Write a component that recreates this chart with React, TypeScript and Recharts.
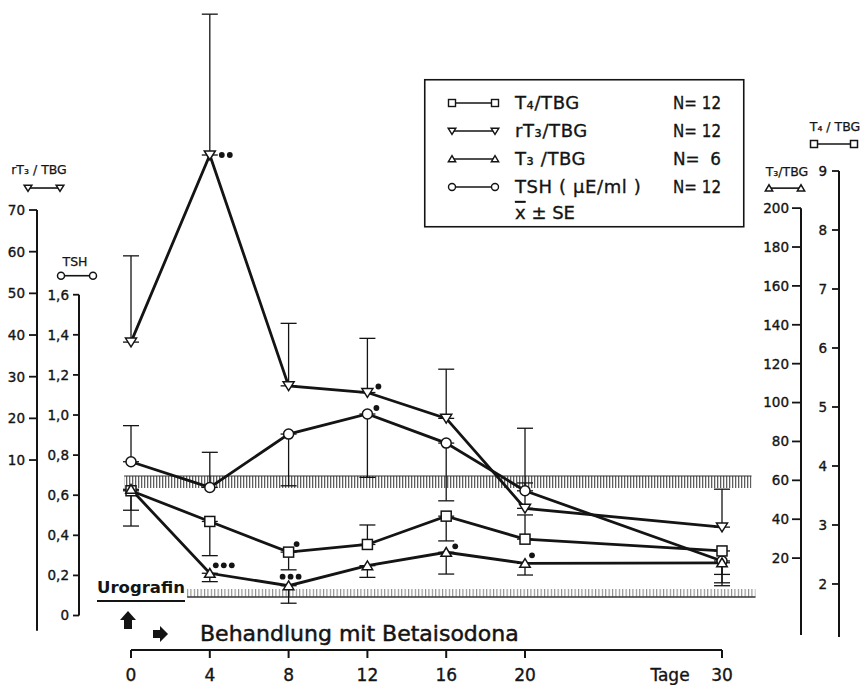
import React from 'react';
import {
  ComposedChart, Line, XAxis, YAxis, ErrorBar, ReferenceLine, ReferenceArea,
  ReferenceDot, LabelList, Legend,
} from 'recharts';

const FONT = "'DejaVu Sans', 'Liberation Sans', Arial, sans-serif";
const INK = '#141414';

// ---------------- data ----------------
const days = [0, 4, 8, 12, 16, 20, 30];

const t4Mean = [3.58, 3.06, 2.54, 2.67, 3.15, 2.76, 2.56];
const t4Err = [-0.33, -0.58, -0.30, 0.33, -0.42, 0.41, -0.54]; // + = bar up, - = bar down
const t4Sig = [0, 0, 1, 0, 0, 0, 0];

const rt3Mean = [38.3, 83.2, 27.8, 26.2, 20.0, -1.6, -6.1];
const rt3Err = [20.7, 33.8, 15.0, 13.0, 11.8, 6.1, 9.1];
const rt3Sig = [0, 2, 0, 1, 0, 0, 0];

const t3Mean = [55.4, 12.2, 5.8, 16.1, 23.0, 17.3, 17.6];
const t3Err = [-18.9, -4.3, -9.0, -6.0, -11.2, -6.0, -11.8];
const t3Sig = [0, 3, 3, 0, 1, 1, 0];

const tshMean = [0.767, 0.639, 0.905, 1.005, 0.86, 0.622, 0.272];
const tshErr = [0.18, 0.175, -0.258, -0.316, -0.288, 0.312, -0.067];
const tshSig = [0, 0, 0, 1, 0, 0, 0];

const xTicks = [0, 4, 8, 12, 16, 20, 30];
const rt3Ticks = [10, 20, 30, 40, 50, 60, 70];
const tshTicks = [0, 0.2, 0.4, 0.6, 0.8, 1.0, 1.2, 1.4, 1.6];
const t3Ticks = [20, 40, 60, 80, 100, 120, 140, 160, 180, 200];
const t4Ticks = [2, 3, 4, 5, 6, 7, 8, 9];

const legendNames = ['T₄/TBG', 'rT₃/TBG', 'T₃ /TBG', 'TSH ( μE/ml )'];
const legendN = ['N= 12', 'N= 12', 'N=  6', 'N= 12'];
const legendKinds = ['square', 'triDown', 'triUp', 'circle'];

// hatched reference bands (T4/TBG axis units, days)
const upperBand = { x1: -0.35, x2: 31.5, y1: 3.627, y2: 3.83 };
const lowerBand = { x1: 2.85, x2: 31.7, y1: 1.78, y2: 1.915 };

// ---------------- layout ----------------
// axis ids: Recharts stacks same-side axes in id order (first = next to the plot)
const TSH_ID = 'L1tsh', RT3_ID = 'L2rt3', T3_ID = 'R1t3', T4_ID = 'R2t4';
const CHART_W = 860;
const CHART_H = 685;
const MARGIN = { top: 10, right: 0, bottom: 0, left: 0 };
const RT3_W = 37, TSH_W = 42, T3_W = 38, T4_W = 21, XAXIS_H = 35;
const X_DOMAIN: [number, number] = [-2.64, 34.01];
const RT3_DOMAIN: [number, number] = [-35.59, 118.0];
const TSH_DOMAIN: [number, number] = [-0.172, 3.02];
const T3_DOMAIN: [number, number] = [-27.26, 301.9];
const T4_DOMAIN: [number, number] = [0.881, 11.729];
const PLOT_W = CHART_W - RT3_W - TSH_W - T3_W - T4_W;
const PX_PER_DAY = PLOT_W / (X_DOMAIN[1] - X_DOMAIN[0]);
const X_RT3_AXIS = X_DOMAIN[0] - TSH_W / PX_PER_DAY;
const X_TSH_AXIS = X_DOMAIN[0];
const X_T3_AXIS = X_DOMAIN[1];
const X_T4_AXIS = X_DOMAIN[1] + T3_W / PX_PER_DAY;

const errPair = (e: number) => (e >= 0 ? [0, e] : [-e, 0]);

const rows = days.map((d, i) => ({
  day: d,
  t4: t4Mean[i], t4E: errPair(t4Err[i]), t4S: t4Sig[i],
  rt3: rt3Mean[i], rt3E: errPair(rt3Err[i]), rt3S: rt3Sig[i],
  t3: t3Mean[i], t3E: errPair(t3Err[i]), t3S: t3Sig[i],
  tsh: tshMean[i], tshE: errPair(tshErr[i]), tshS: tshSig[i],
}));

const TXT = { fontFamily: FONT, fill: INK, stroke: INK, strokeWidth: 0.35 } as const;

// ---------------- shapes ----------------
function Marker({ kind, cx, cy, size, sw = 1.5 }: any) {
  if (cx == null || cy == null) return null;
  const h = size / 2;
  if (kind === 'square')
    return <rect x={cx - h} y={cy - h} width={size} height={size} fill="#fff" stroke={INK} strokeWidth={sw} />;
  if (kind === 'circle')
    return <circle cx={cx} cy={cy} r={h} fill="#fff" stroke={INK} strokeWidth={sw} />;
  if (kind === 'triDown')
    return (
      <polygon
        points={`${cx - h * 1.1},${cy - h * 0.8} ${cx + h * 1.1},${cy - h * 0.8} ${cx},${cy + h * 0.95}`}
        fill="#fff" stroke={INK} strokeWidth={sw} strokeLinejoin="miter"
      />
    );
  return (
    <polygon
      points={`${cx - h * 1.05},${cy + h * 0.8} ${cx + h * 1.05},${cy + h * 0.8} ${cx},${cy - h * 0.95}`}
      fill="#fff" stroke={INK} strokeWidth={sw} strokeLinejoin="miter"
    />
  );
}

const dotRenderer = (kind: string) => (p: any) => (
  <Marker key={`${kind}-${p.index}`} kind={kind} cx={p.cx} cy={p.cy} size={10} />
);

const sigOffsets: Record<string, Record<number, [number, number]>> = {
  rt3: { 1: [12, 0], 3: [11, -6] },
  tsh: { 3: [9, -6] },
  t4: { 2: [8, -8] },
  t3: { 1: [6, -8], 2: [-6, -9], 4: [9, -6], 5: [7, -8] },
};

const sigRenderer = (series: string) => (p: any) => {
  const n = Number(p.value) || 0;
  if (!n) return null;
  const x = p.x ?? p.viewBox?.x;
  const y = p.y ?? p.viewBox?.y;
  const off = sigOffsets[series][p.index] ?? [8, -7];
  return (
    <g key={`sig-${series}-${p.index}`}>
      {Array.from({ length: n }, (_, k) => (
        <circle key={k} cx={x + off[0] + k * 8} cy={y + off[1]} r={2.9} fill={INK} />
      ))}
    </g>
  );
};

const makeYTick = (len: number, gap: number, fmt: (v: number) => string) => (p: any) => (
  <g key={`yt-${p.index}-${p.x}`}>
    <line x1={p.x - len} x2={p.x} y1={p.y} y2={p.y} stroke={INK} strokeWidth={1.8} />
    <text x={p.x - len - gap} y={p.y} dy="0.36em" textAnchor="end" fontSize={13.5} {...TXT}>
      {fmt(p.payload.value)}
    </text>
  </g>
);

const XTick = (p: any) => (
  <g key={`xt-${p.index}`}>
    <line x1={p.x} x2={p.x} y1={p.y} y2={p.y + 8} stroke={INK} strokeWidth={2} />
    <text x={p.x} y={p.y + 31} textAnchor="middle" fontSize={17} {...TXT}>
      {p.payload.value}
    </text>
  </g>
);

const axisTitle = (label: string, kind: string, tdx: number, tdy: number, mdx: number, mdy: number, half: number) =>
  (p: any) => (
    <g>
      <text x={p.cx + tdx} y={p.cy + tdy} textAnchor="middle" fontSize={12.5} {...TXT} strokeWidth={0.25}>{label}</text>
      <line x1={p.cx + mdx - half} x2={p.cx + mdx + half} y1={p.cy + mdy} y2={p.cy + mdy} stroke={INK} strokeWidth={1.6} />
      <Marker kind={kind} cx={p.cx + mdx - half} cy={p.cy + mdy} size={7} sw={1.5} />
      <Marker kind={kind} cx={p.cx + mdx + half} cy={p.cy + mdy} size={7} sw={1.5} />
    </g>
  );

const startAnnotation = (p: any) => {
  const c = p.cx, b = p.cy;
  return (
    <g>
      <text x={c - 34} y={b - 57} fontSize={16.5} fontWeight="bold" fontFamily={FONT} fill={INK}
        textLength={88} lengthAdjust="spacingAndGlyphs">Urografin</text>
      <line x1={c - 34} x2={c + 54} y1={b - 49} y2={b - 49} stroke={INK} strokeWidth={2} />
      <polygon
        points={`${c - 3},${b - 39} ${c + 5},${b - 30} ${c + 1},${b - 30} ${c + 1},${b - 21} ${c - 7},${b - 21} ${c - 7},${b - 30} ${c - 11},${b - 30}`}
        fill={INK}
      />
      <polygon
        points={`${c + 22},${b - 20} ${c + 29},${b - 20} ${c + 29},${b - 24} ${c + 37},${b - 16} ${c + 29},${b - 8} ${c + 29},${b - 12} ${c + 22},${b - 12}`}
        fill={INK}
      />
      <text x={c + 69} y={b - 9} fontSize={22} {...TXT} strokeWidth={0.5}>Behandlung mit Betaisodona</text>
    </g>
  );
};

const tageAnnotation = (p: any) => (
  <text x={p.cx - 52} y={p.cy + 31} textAnchor="middle" fontSize={17} {...TXT}>Tage</text>
);

const LegendBox = () => {
  const rowY = [24, 52, 80, 108];
  const fs = 18;
  return (
    <svg width={322} height={152} style={{ position: 'absolute', left: 0, top: 0, overflow: 'visible' }}>
      <rect x={0.75} y={0.75} width={319} height={147} fill="#fff" stroke={INK} strokeWidth={1.6} />
      {legendNames.map((name, i) => (
        <g key={name}>
          <line x1={28} x2={71} y1={rowY[i]} y2={rowY[i]} stroke={INK} strokeWidth={1.4} />
          <Marker kind={legendKinds[i]} cx={28} cy={rowY[i]} size={7} sw={1.4} />
          <Marker kind={legendKinds[i]} cx={71} cy={rowY[i]} size={7} sw={1.4} />
          <text x={91} y={rowY[i] + 6} fontSize={fs} letterSpacing={0.6} {...TXT}>{name}</text>
          <text x={249} y={rowY[i] + 6} fontSize={fs} style={{ whiteSpace: 'pre' }}
            textLength={48} lengthAdjust="spacingAndGlyphs" {...TXT}>{legendN[i]}</text>
        </g>
      ))}
      <text x={91} y={140} fontSize={fs} {...TXT}>
        <tspan textDecoration="overline">x</tspan> ± SE
      </text>
    </svg>
  );
};

export default function App() {
  return (
    <div style={{ position: 'absolute', left: 0, top: 0, width: CHART_W, height: CHART_H, background: '#fff', fontFamily: FONT, overflow: 'hidden' }}>
      <svg width={0} height={0} style={{ position: 'absolute' }}>
        <defs>
          <pattern id="hatchUp" width="3" height="20" patternUnits="userSpaceOnUse">
            <rect x="0" y="0" width="1.3" height="20" fill="#5e5e5e" />
          </pattern>
          <pattern id="hatchLow" width="3.4" height="20" patternUnits="userSpaceOnUse">
            <rect x="0" y="0" width="1.1" height="20" fill="#8a8a8a" />
          </pattern>
        </defs>
      </svg>
      <ComposedChart width={CHART_W} height={CHART_H} data={rows} margin={MARGIN}>
        <XAxis
          dataKey="day" type="number" domain={X_DOMAIN} allowDataOverflow ticks={xTicks} interval={0}
          axisLine={false} tickLine={false} tickSize={0} tickMargin={0} height={XAXIS_H} tick={XTick}
        />
        <YAxis
          yAxisId={TSH_ID} orientation="left" width={TSH_W} domain={TSH_DOMAIN} allowDataOverflow ticks={tshTicks}
          interval={0} axisLine={false} tickLine={false} tickSize={0} tickMargin={0}
          tick={makeYTick(6, 4, (v) => (v === 0 ? '0' : v.toFixed(1).replace('.', ',')))}
        />
        <YAxis
          yAxisId={RT3_ID} orientation="left" width={RT3_W} domain={RT3_DOMAIN} allowDataOverflow ticks={rt3Ticks}
          interval={0} axisLine={false} tickLine={false} tickSize={0} tickMargin={0}
          tick={makeYTick(8, 4, (v) => String(v))}
        />
        <YAxis
          yAxisId={T3_ID} orientation="right" width={T3_W} domain={T3_DOMAIN} allowDataOverflow ticks={t3Ticks}
          interval={0} axisLine={false} tickLine={false} tickSize={0} tickMargin={0}
          tick={makeYTick(9, 3, (v) => String(v))}
        />
        <YAxis
          yAxisId={T4_ID} orientation="right" width={T4_W} domain={T4_DOMAIN} allowDataOverflow ticks={t4Ticks}
          interval={0} axisLine={false} tickLine={false} tickSize={0} tickMargin={0}
          tick={makeYTick(7, 5, (v) => String(v))}
        />

        <ReferenceArea yAxisId={T4_ID} x1={upperBand.x1} x2={upperBand.x2} y1={upperBand.y1} y2={upperBand.y2}
          fill="url(#hatchUp)" fillOpacity={1} stroke="none" ifOverflow="visible" />
        <ReferenceLine yAxisId={T4_ID} segment={[{ x: upperBand.x1, y: upperBand.y2 }, { x: upperBand.x2, y: upperBand.y2 }]}
          stroke="#333" strokeWidth={1.2} ifOverflow="visible" />
        <ReferenceArea yAxisId={T4_ID} x1={lowerBand.x1} x2={lowerBand.x2} y1={lowerBand.y1} y2={lowerBand.y2}
          fill="url(#hatchLow)" fillOpacity={1} stroke="none" ifOverflow="visible" />
        <ReferenceLine yAxisId={T4_ID} segment={[{ x: lowerBand.x1, y: lowerBand.y1 }, { x: lowerBand.x2, y: lowerBand.y1 }]}
          stroke="#333" strokeWidth={1.4} ifOverflow="visible" />

        {/* axis lines with their own extents */}
        <ReferenceLine yAxisId={RT3_ID} segment={[{ x: X_RT3_AXIS, y: -31 }, { x: X_RT3_AXIS, y: 70 }]}
          stroke={INK} strokeWidth={2} ifOverflow="visible" />
        <ReferenceLine yAxisId={TSH_ID} segment={[{ x: X_TSH_AXIS, y: 0 }, { x: X_TSH_AXIS, y: 1.6 }]}
          stroke={INK} strokeWidth={2} ifOverflow="visible" />
        <ReferenceLine yAxisId={T3_ID} segment={[{ x: X_T3_AXIS, y: -19.5 }, { x: X_T3_AXIS, y: 200 }]}
          stroke={INK} strokeWidth={2} ifOverflow="visible" />
        <ReferenceLine yAxisId={T4_ID} segment={[{ x: X_T4_AXIS, y: 1.1 }, { x: X_T4_AXIS, y: 9 }]}
          stroke={INK} strokeWidth={2} ifOverflow="visible" />
        <ReferenceLine yAxisId={RT3_ID} segment={[{ x: 0, y: RT3_DOMAIN[0] }, { x: 30, y: RT3_DOMAIN[0] }]}
          stroke={INK} strokeWidth={2.2} ifOverflow="visible" />

        {/* axis titles */}
        <ReferenceDot yAxisId={RT3_ID} x={X_RT3_AXIS} y={70} r={0} ifOverflow="visible"
          shape={axisTitle('rT₃ / TBG', 'triDown', 2, -36, 7, -22, 16)} />
        <ReferenceDot yAxisId={TSH_ID} x={X_TSH_AXIS} y={1.6} r={0} ifOverflow="visible"
          shape={axisTitle('TSH', 'circle', -4, -29, -2, -19, 16)} />
        <ReferenceDot yAxisId={T3_ID} x={X_T3_AXIS} y={200} r={0} ifOverflow="visible"
          shape={axisTitle('T₃/TBG', 'triUp', -14, -32, -16, -20, 16)} />
        <ReferenceDot yAxisId={T4_ID} x={X_T4_AXIS} y={9} r={0} ifOverflow="visible"
          shape={axisTitle('T₄ / TBG', 'square', -4, -40, -5, -27, 20)} />

        {/* annotations */}
        <ReferenceDot yAxisId={RT3_ID} x={0} y={RT3_DOMAIN[0]} r={0} ifOverflow="visible" shape={startAnnotation} />
        <ReferenceDot yAxisId={RT3_ID} x={30} y={RT3_DOMAIN[0]} r={0} ifOverflow="visible" shape={tageAnnotation} />

        <Line yAxisId={RT3_ID} dataKey="rt3" type="linear" stroke={INK} strokeWidth={2.8} isAnimationActive={false}
          dot={dotRenderer('triDown')} activeDot={false}>
          <ErrorBar dataKey="rt3E" width={8} stroke={INK} strokeWidth={1.3} direction="y" />
          <LabelList dataKey="rt3S" content={sigRenderer('rt3')} />
        </Line>
        <Line yAxisId={TSH_ID} dataKey="tsh" type="linear" stroke={INK} strokeWidth={2.8} isAnimationActive={false}
          dot={dotRenderer('circle')} activeDot={false}>
          <ErrorBar dataKey="tshE" width={8} stroke={INK} strokeWidth={1.3} direction="y" />
          <LabelList dataKey="tshS" content={sigRenderer('tsh')} />
        </Line>
        <Line yAxisId={T4_ID} dataKey="t4" type="linear" stroke={INK} strokeWidth={2.8} isAnimationActive={false}
          dot={dotRenderer('square')} activeDot={false}>
          <ErrorBar dataKey="t4E" width={8} stroke={INK} strokeWidth={1.3} direction="y" />
          <LabelList dataKey="t4S" content={sigRenderer('t4')} />
        </Line>
        <Line yAxisId={T3_ID} dataKey="t3" type="linear" stroke={INK} strokeWidth={2.8} isAnimationActive={false}
          dot={dotRenderer('triUp')} activeDot={false}>
          <ErrorBar dataKey="t3E" width={8} stroke={INK} strokeWidth={1.3} direction="y" />
          <LabelList dataKey="t3S" content={sigRenderer('t3')} />
        </Line>

        <Legend content={LegendBox}
          wrapperStyle={{ position: 'absolute', left: 424, top: 79, width: 0, height: 0, overflow: 'visible' }} />
      </ComposedChart>
    </div>
  );
}
